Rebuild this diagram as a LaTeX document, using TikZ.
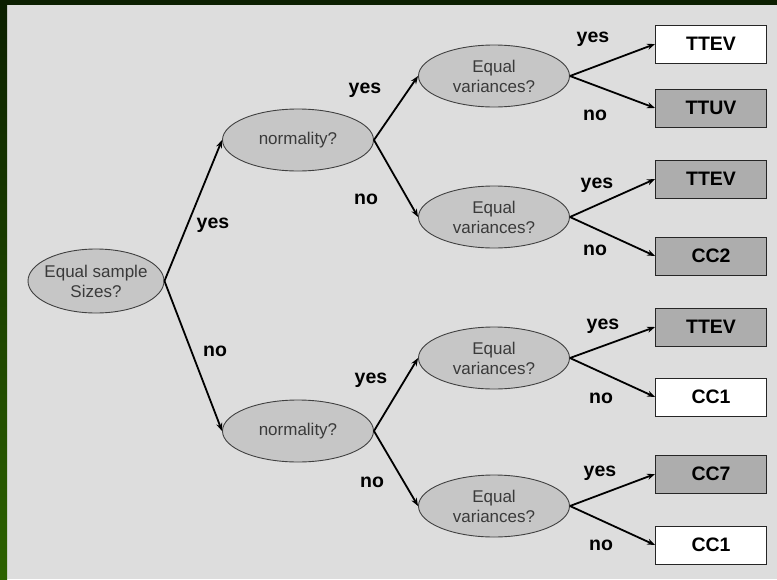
\documentclass[tikz,border=0pt]{standalone}
\usepackage{fontspec}
\setmainfont{Liberation Sans}
\usetikzlibrary{shapes.geometric,arrows.meta}
\definecolor{panel}{HTML}{DDDDDD}
\definecolor{qfill}{HTML}{C6C6C6}
\definecolor{boxgray}{HTML}{ADADAD}
\definecolor{qtext}{HTML}{3A3A3A}
\definecolor{edgegreenA}{HTML}{0B1F00}
\definecolor{edgegreenB}{HTML}{2C6200}
\tikzset{
  question/.style={ellipse, draw=black!75, line width=0.9pt, fill=qfill,
    minimum width=151pt, minimum height=62pt, inner sep=0pt,
    align=center, font=\fontsize{17}{20}\selectfont, text=qtext},
  rootq/.style={question, inner xsep=-4pt, minimum width=136pt, minimum height=64pt},
  outcome/.style={rectangle, draw=black!85, line width=0.9pt,
    minimum width=111pt, minimum height=38pt, inner sep=0pt,
    font=\fontsize{19.5}{22}\selectfont\bfseries},
  light/.style={outcome, fill=white},
  dark/.style={outcome, fill=boxgray},
  branch/.style={draw=black, line width=1.8pt, -{Stealth[length=8pt,width=6pt]}},
  answer/.style={anchor=base, font=\fontsize{19.5}{22}\selectfont\bfseries}
}
\begin{document}
\begin{tikzpicture}[x=1pt,y=-1pt]
  % frame
  \useasboundingbox (0,0) rectangle (777,579);
  \fill[panel] (0,0) rectangle (777,579);
  \fill[edgegreenA] (0,0) rectangle (777,5);
  \shade[top color=edgegreenA, bottom color=edgegreenB] (0,0) rectangle (7,579);

  % decision nodes
  \node[rootq] (root) at (96,281) {Equal sample\\Sizes?};
  \node[question] (n1) at (298,140) {normality?};
  \node[question] (n2) at (298,431) {normality?};
  \node[question] (v1) at (494,76) {Equal\\variances?};
  \node[question] (v2) at (494,217) {Equal\\variances?};
  \node[question] (v3) at (494,358) {Equal\\variances?};
  \node[question] (v4) at (494,506) {Equal\\variances?};

  % outcomes
  \node[light] (o1) at (711,44) {TTEV};
  \node[dark]  (o2) at (711,108) {TTUV};
  \node[dark]  (o3) at (711,179) {TTEV};
  \node[dark]  (o4) at (711,256) {CC2};
  \node[dark]  (o5) at (711,327) {TTEV};
  \node[light] (o6) at (711,397) {CC1};
  \node[dark]  (o7) at (711,474) {CC7};
  \node[light] (o8) at (711,545) {CC1};

  % connectors
  \draw[branch] (root.east) -- (n1.west);
  \draw[branch] (root.east) -- (n2.west);
  \draw[branch] (n1.east) -- (v1.west);
  \draw[branch] (n1.east) -- (v2.west);
  \draw[branch] (n2.east) -- (v3.west);
  \draw[branch] (n2.east) -- (v4.west);
  \draw[branch] (v1.east) -- (o1.west);
  \draw[branch] (v1.east) -- (o2.west);
  \draw[branch] (v2.east) -- (o3.west);
  \draw[branch] (v2.east) -- (o4.west);
  \draw[branch] (v3.east) -- (o5.west);
  \draw[branch] (v3.east) -- (o6.west);
  \draw[branch] (v4.east) -- (o7.west);
  \draw[branch] (v4.east) -- (o8.west);

  % branch answers (placed by baseline)
  \node[answer] (a1) at (213,228) {yes};
  \node[answer] (a2) at (215,356) {no};
  \node[answer] (a3) at (365,93) {yes};
  \node[answer] (a4) at (366,204) {no};
  \node[answer] (a5) at (371,383) {yes};
  \node[answer] (a6) at (372,487) {no};
  \node[answer] (a7) at (593,42) {yes};
  \node[answer] (a8) at (595,120) {no};
  \node[answer] (a9) at (597,188) {yes};
  \node[answer] (a10) at (595,255) {no};
  \node[answer] (a11) at (603,329) {yes};
  \node[answer] (a12) at (601,403) {no};
  \node[answer] (a13) at (600,476) {yes};
  \node[answer] (a14) at (601,550) {no};
\end{tikzpicture}
\end{document}
